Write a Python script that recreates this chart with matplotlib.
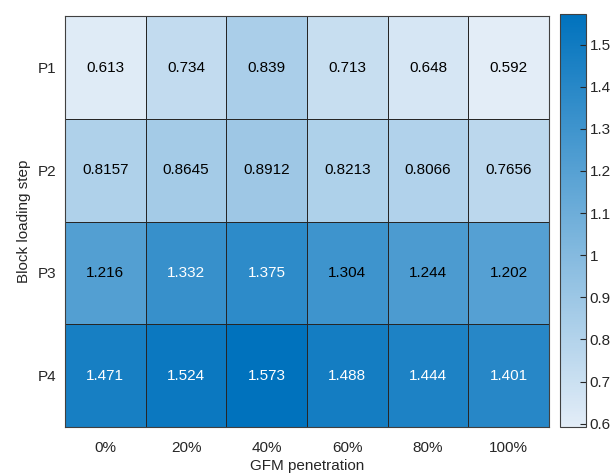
import numpy as np
import matplotlib.pyplot as plt
from matplotlib.colors import LinearSegmentedColormap

# Data
steps = ['P1', 'P2', 'P3', 'P4']
penetration = ['0%', '20%', '40%', '60%', '80%', '100%']
p1 = [0.613, 0.734, 0.839, 0.713, 0.648, 0.592]
p2 = [0.8157, 0.8645, 0.8912, 0.8213, 0.8066, 0.7656]
p3 = [1.216, 1.332, 1.375, 1.304, 1.244, 1.202]
p4 = [1.471, 1.524, 1.573, 1.488, 1.444, 1.401]
labels = [
    ['0.613', '0.734', '0.839', '0.713', '0.648', '0.592'],
    ['0.8157', '0.8645', '0.8912', '0.8213', '0.8066', '0.7656'],
    ['1.216', '1.332', '1.375', '1.304', '1.244', '1.202'],
    ['1.471', '1.524', '1.573', '1.488', '1.444', '1.401'],
]

plt.rcParams['font.family'] = ['Liberation Sans', 'DejaVu Sans']
plt.rcParams['font.size'] = 11

values = np.array([p1, p2, p3, p4])
vmin, vmax = values.min(), values.max()

cmap = LinearSegmentedColormap.from_list('matlab_blue', [(0.89, 0.93, 0.97), (0.0, 0.447, 0.741)])

fig = plt.figure(figsize=(6.1, 4.75), dpi=100)
ax = fig.add_axes([0.1066, 0.101, 0.7934, 0.865])
cax = fig.add_axes([0.918, 0.101, 0.042, 0.870])

mesh = ax.pcolormesh(values, cmap=cmap, vmin=vmin, vmax=vmax,
                     edgecolors='#262626', linewidth=0.6)
ax.set_ylim(len(steps), 0)
ax.set_xlim(0, len(penetration))

for i in range(len(steps)):
    for j in range(len(penetration)):
        color = 'white' if values[i, j] > 1.32 else 'black'
        ax.text(j + 0.5, i + 0.5, labels[i][j], ha='center', va='center',
                color=color, fontsize=11)

ax.set_xticks(np.arange(len(penetration)) + 0.5)
ax.set_xticklabels(penetration, color='#262626')
ax.set_yticks(np.arange(len(steps)) + 0.5)
ax.set_yticklabels(steps, color='#262626')
ax.tick_params(axis='x', length=0, pad=10)
ax.tick_params(axis='y', length=0, pad=6)
ax.set_xlabel('GFM penetration', color='#262626', labelpad=3)
ax.set_ylabel('Block loading step', color='#262626', labelpad=5)
for s in ax.spines.values():
    s.set_color('#404040')
    s.set_linewidth(0.8)

cb = fig.colorbar(mesh, cax=cax)
cb.set_ticks([0.6, 0.7, 0.8, 0.9, 1.0, 1.1, 1.2, 1.3, 1.4, 1.5])
cb.set_ticklabels(['0.6', '0.7', '0.8', '0.9', '1', '1.1', '1.2', '1.3', '1.4', '1.5'])
cax.tick_params(direction='in', length=4, width=0.8, colors='#262626', pad=3)
cb.outline.set_edgecolor('#404040')
cb.outline.set_linewidth(0.8)

fig.savefig('out.png', dpi=100)
